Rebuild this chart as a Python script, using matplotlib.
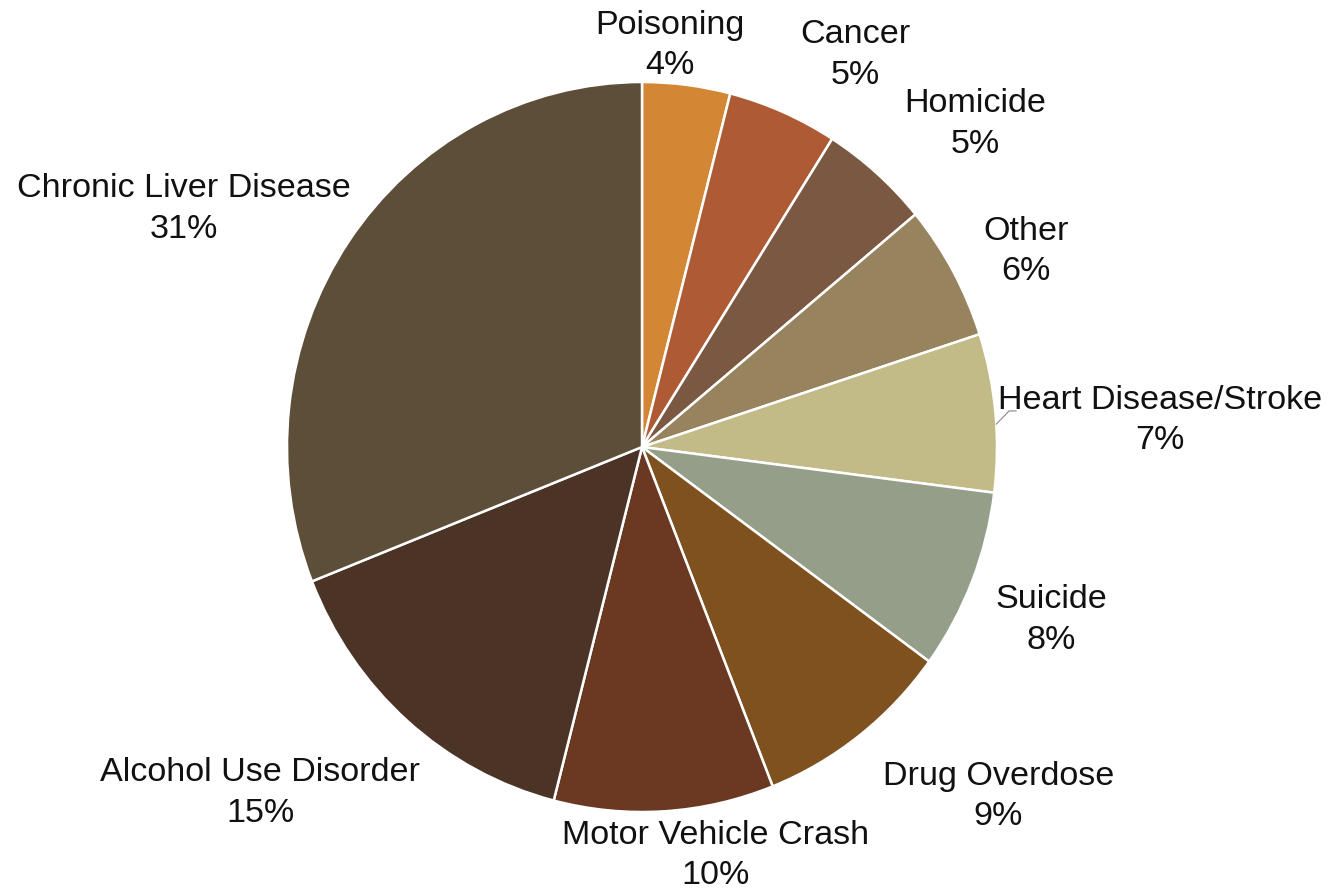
import numpy as np
import matplotlib
matplotlib.use("Agg")
import matplotlib.pyplot as plt

plt.rcParams["font.family"] = ["Liberation Sans", "DejaVu Sans"]

# causes of death, clockwise from 12 o'clock
causes = [
    "Poisoning", "Cancer", "Homicide", "Other", "Heart Disease/Stroke",
    "Suicide", "Drug Overdose", "Motor Vehicle Crash",
    "Alcohol Use Disorder", "Chronic Liver Disease",
]
shares = [4, 5, 5, 6, 7, 8, 9, 10, 15, 31]
colors = [
    "#D38634", "#AE5B35", "#7B5841", "#97835E", "#C2BB88",
    "#959E88", "#7E511F", "#6B3821", "#4B3326", "#5C4E38",
]

# label anchors in pie-radius units (center of the two-line label)
label_pos = [
    (0.079, 1.10), (0.60, 1.074), (0.938, 0.885), (1.082, 0.535), (1.459, 0.072),
    (1.152, -0.474), (1.004, -0.958), (0.208, -1.118), (-1.075, -0.948), (-1.29, 0.652),
]

W, H = 1332, 892
SX, SY = 355, 365   # px per unit horizontally / vertically
CX, CY = 642, 445   # pie center in pixels from bottom-left

fig = plt.figure(figsize=(W / 100, H / 100), dpi=100)
ax = fig.add_axes([0, 0, 1, 1])
ax.set_axis_off()

wedges, _ = ax.pie(
    shares, colors=colors, startangle=90, counterclock=False, radius=1.0,
    wedgeprops=dict(edgecolor="white", linewidth=1.8),
)
ax.set_aspect("auto")
ax.set_xlim(-CX / SX, (W - CX) / SX)
ax.set_ylim(-CY / SY, (H - CY) / SY)

for name, val, (lx, ly) in zip(causes, shares, label_pos):
    ax.text(lx, ly, f"{name}\n{val}%", ha="center", va="center",
            fontsize=24.6, color="#111111", linespacing=1.38)

# short leader for the heart disease label
w = wedges[causes.index("Heart Disease/Stroke")]
mid = np.deg2rad((w.theta1 + w.theta2) / 2 - 1.8)
ex, ey = np.cos(mid), np.sin(mid)
ax.plot([ex, ex + 0.036, ex + 0.056], [ey, ey + 0.036, ey + 0.036],
        color="#888888", lw=0.8)

fig.savefig("out.png", dpi=100, facecolor="white")
